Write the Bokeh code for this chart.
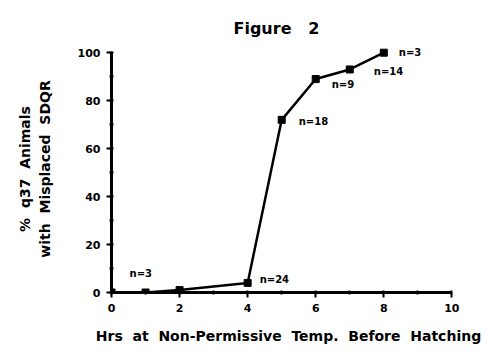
from bokeh.plotting import figure
from bokeh.models import Range1d, SingleIntervalTicker, ColumnDataSource
from bokeh.core.properties import value
from bokeh.embed import file_html
from bokeh.resources import INLINE

# data
hours = [0, 1, 2, 4, 5, 6, 7, 8]
percent = [0, 0, 1, 4, 72, 89, 93, 100]

n_hours = [1, 4, 5, 6, 7, 8]
n_percent = [0, 4, 72, 89, 93, 100]
n_text = ["n=3", "n=24", "n=18", "n=9", "n=14", "n=3"]

SP = " \u00a0"
title_text = "Figure" + SP + "\u00a02"
xlabel_text = SP.join(["Hrs", "at", "Non-Permissive", "Temp.", "Before", "Hatching"])
ylabel_text = SP.join(["%", "q37", "Animals"]) + "\n" + SP.join(["with", "Misplaced", "SDQR"])

# label pixel offsets (style)
n_dx = [-16, 12, 17, 16, 24, 15]
n_dy = [-19, -3, 2, 5, 2, 0]

FONT = "DejaVu Sans"

p = figure(width=501, height=354, output_backend="svg", toolbar_location=None,
           x_range=Range1d(0, 10.4), y_range=Range1d(0, 103),
           min_border_left=111, min_border_right=36, min_border_top=45, min_border_bottom=62)
p.outline_line_color = None
p.grid.visible = False
p.background_fill_color = "white"
p.border_fill_color = "white"

p.title.text = title_text
p.title.align = "left"
p.title.offset = 122
p.title.text_font = FONT
p.title.text_font_style = "bold"
p.title.text_font_size = "16px"
p.title.text_color = "black"
p.title.standoff = 15

for ax in (p.xaxis[0], p.yaxis[0]):
    ax.axis_line_width = 3
    ax.axis_line_color = "black"
    ax.major_tick_line_width = 2
    ax.minor_tick_line_width = 2
    ax.major_tick_line_color = "black"
    ax.minor_tick_line_color = "black"
    ax.major_tick_out = 5
    ax.major_tick_in = 0
    ax.minor_tick_out = 2
    ax.minor_tick_in = 2
    ax.major_label_text_font = FONT
    ax.major_label_text_font_style = "bold"
    ax.major_label_text_font_size = "11px"
    ax.major_label_text_color = "black"
    ax.axis_label_text_font = FONT
    ax.axis_label_text_font_style = "bold"
    ax.axis_label_text_font_size = "14px"
    ax.axis_label_text_color = "black"

p.xaxis[0].ticker = SingleIntervalTicker(interval=2, num_minor_ticks=2)
p.yaxis[0].ticker = SingleIntervalTicker(interval=20, num_minor_ticks=2)
p.xaxis[0].bounds = (0, 10)
p.yaxis[0].bounds = (0, 100)
p.xaxis[0].major_label_standoff = 6
p.yaxis[0].major_label_standoff = 6
p.xaxis[0].axis_label = xlabel_text
p.yaxis[0].axis_label = ylabel_text
p.xaxis[0].axis_label_standoff = 13
p.yaxis[0].axis_label_standoff = 22

p.line(hours, percent, line_width=2.5, line_color="black")
p.scatter(hours, percent, marker="square", size=7, fill_color="black", line_color="black")

src = ColumnDataSource(dict(x=n_hours, y=n_percent, t=n_text, dx=n_dx, dy=n_dy))
p.text(x="x", y="y", text="t", x_offset="dx", y_offset="dy", source=src,
       text_font=value(FONT), text_font_style="bold", text_font_size="10px",
       text_align="left", text_baseline="middle", text_color="black")

open("out.html", "w").write(file_html(p, INLINE))
